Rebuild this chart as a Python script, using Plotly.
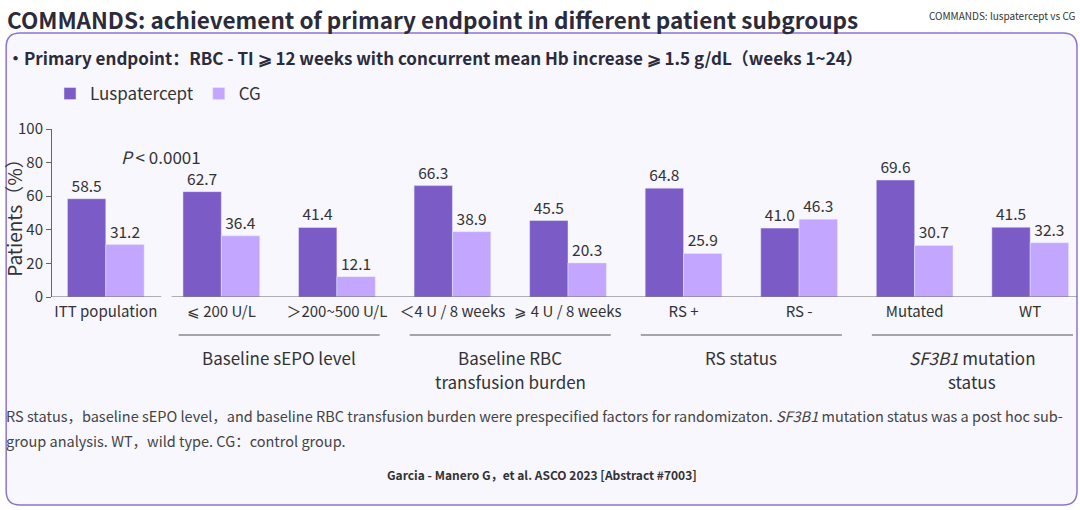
import plotly.graph_objects as go

categories = ["ITT population", "⩽ 200 U/L", "＞200~500 U/L", "＜4 U / 8 weeks",
              "⩾ 4 U / 8 weeks", "RS +", "RS -", "Mutated", "WT"]
luspatercept = [58.5, 62.7, 41.4, 66.3, 45.5, 64.8, 41.0, 69.6, 41.5]
cg = [31.2, 36.4, 12.1, 38.9, 20.3, 25.9, 46.3, 30.7, 32.3]
groups = [(["Baseline sEPO level"], 1, 2),
          (["Baseline RBC", "transfusion burden"], 3, 4),
          (["RS status"], 5, 6),
          (["<i>SF3B1</i> mutation", "status"], 7, 8)]
yticks = [0, 20, 40, 60, 80, 100]

FONT = "Noto Sans CJK SC"
C_L = "#7B5BC6"
C_C = "#C3A6FF"
TXT = "#333333"

W, H = 1080, 510
L, R, T, B = 48, 1077, 129, 297   # plot area in px

def px2x(px):
    return (px - L) / (R - L)

def px2y(py):
    return (B - py) / (B - T)

xs = list(range(len(categories)))

fig = go.Figure()
fig.add_trace(go.Bar(x=xs, y=luspatercept, name="Luspatercept", marker_color=C_L,
                     text=[f"{v:.1f}" for v in luspatercept], textposition="outside",
                     textfont=dict(size=15.5, color=TXT, family=FONT), cliponaxis=False,
                     hoverinfo="skip"))
fig.add_trace(go.Bar(x=xs, y=cg, name="CG", marker_color=C_C,
                     text=[f"{v:.1f}" for v in cg], textposition="outside",
                     textfont=dict(size=15.5, color=TXT, family=FONT), cliponaxis=False,
                     hoverinfo="skip"))

shapes = []
# rounded panel box
x0, x1, y0, y1, r = 2, 1077, 33, 505, 14
def P(px, py):
    return f"{px2x(px)},{px2y(py)}"
path = (f"M {P(x0 + r, y0)} L {P(x1 - r, y0)} Q {P(x1, y0)} {P(x1, y0 + r)} "
        f"L {P(x1, y1 - r)} Q {P(x1, y1)} {P(x1 - r, y1)} L {P(x0 + r, y1)} "
        f"Q {P(x0, y1)} {P(x0, y1 - r)} L {P(x0, y0 + r)} Q {P(x0, y0)} {P(x0 + r, y0)} Z")
shapes.append(dict(type="path", xref="paper", yref="paper", path=path,
                   fillcolor="#F8F7FE", line=dict(color="#8C74D0", width=1.5), layer="below"))
# broken baseline
shapes.append(dict(type="line", xref="x", yref="y", x0=-0.4655, x1=0.48, y0=0, y1=0,
                   line=dict(color="#666666", width=1)))
shapes.append(dict(type="line", xref="x", yref="y", x0=0.57, x1=8.405, y0=0, y1=0,
                   line=dict(color="#666666", width=1)))

annotations = []
for lines, a, b in groups:
    shapes.append(dict(type="line", xref="x", yref="paper", x0=a - 0.37, x1=b + 0.37,
                       y0=px2y(335), y1=px2y(335), line=dict(color="#8A8A8A", width=1.5)))
    for i, ln in enumerate(lines):
        annotations.append(dict(x=(a + b) / 2, xref="x", y=px2y(357 + 24 * i), yref="paper",
                                text=ln, showarrow=False, xanchor="center", yanchor="middle",
                                font=dict(size=17, color=TXT, family=FONT), align="center"))

annotations += [
    dict(x=px2x(1), y=px2y(1), xref="paper", yref="paper", xanchor="left", yanchor="top",
         text="<b>COMMANDS: achievement of primary endpoint in different patient subgroups</b>",
         showarrow=False, font=dict(size=22.5, color="#2B2B3B", family=FONT)),
    dict(x=px2x(1078), y=px2y(15), xref="paper", yref="paper", xanchor="right", yanchor="middle",
         text="COMMANDS: luspatercept vs CG", showarrow=False,
         font=dict(size=10, color="#333333", family=FONT)),
    dict(x=px2x(1), y=px2y(57), xref="paper", yref="paper", xanchor="left", yanchor="middle",
         text="<b>•Primary endpoint：RBC - TI ⩾ 12 weeks with concurrent mean Hb increase ⩾ 1.5 g/dL（weeks 1~24）</b>",
         showarrow=False, font=dict(size=17, color="#2B2B3B", family=FONT)),
    dict(x=px2x(157), y=px2y(156), xref="paper", yref="paper", xanchor="center", yanchor="middle",
         text="<i>P</i> < 0.0001", showarrow=False, font=dict(size=17, color=TXT, family=FONT)),
    dict(x=px2x(0), y=px2y(415), xref="paper", yref="paper", xanchor="left", yanchor="middle",
         text="RS status，baseline sEPO level，and baseline RBC transfusion burden were prespecified factors for randomizaton. <i>SF3B1</i> mutation status was a post hoc sub-",
         showarrow=False, font=dict(size=14.5, color="#444444", family=FONT)),
    dict(x=px2x(0), y=px2y(440), xref="paper", yref="paper", xanchor="left", yanchor="middle",
         text="group analysis. WT，wild type. CG：control group.",
         showarrow=False, font=dict(size=14.5, color="#444444", family=FONT)),
    dict(x=px2x(540), y=px2y(475), xref="paper", yref="paper", xanchor="center", yanchor="middle",
         text="<b>Garcia - Manero G，et al. ASCO 2023 [Abstract #7003]</b>",
         showarrow=False, font=dict(size=12, color="#333333", family=FONT)),
]

fig.update_layout(
    width=W, height=H,
    margin=dict(l=L, r=W - R, t=T, b=H - B, pad=0),
    paper_bgcolor="white", plot_bgcolor="rgba(0,0,0,0)",
    barmode="group", bargap=0.336, bargroupgap=0,
    font=dict(family=FONT, color=TXT),
    showlegend=True,
    legend=dict(orientation="h", x=px2x(46), y=px2y(94), xanchor="left", yanchor="middle",
                font=dict(size=17, color=TXT, family=FONT), bgcolor="rgba(0,0,0,0)",
                itemwidth=30, tracegroupgap=0),
    xaxis=dict(range=[-0.4655, 8.405], tickvals=xs, ticktext=categories, showline=False,
               showgrid=False, zeroline=False, ticks="", ticklabelstandoff=4,
               tickfont=dict(size=15, color=TXT)),
    yaxis=dict(range=[0, 100], tickvals=yticks, showline=True, linecolor="#666666", linewidth=1,
               ticks="outside", ticklen=5, tickcolor="#666666", showgrid=False, zeroline=False,
               tickfont=dict(size=15, color=TXT),
               title=dict(text="Patients（%）", font=dict(size=19, color=TXT), standoff=2)),
    shapes=shapes, annotations=annotations,
)

fig.write_html("out.html", config={"displayModeBar": False},
               post_script="document.body.style.margin='0';document.body.style.overflow='hidden';")
